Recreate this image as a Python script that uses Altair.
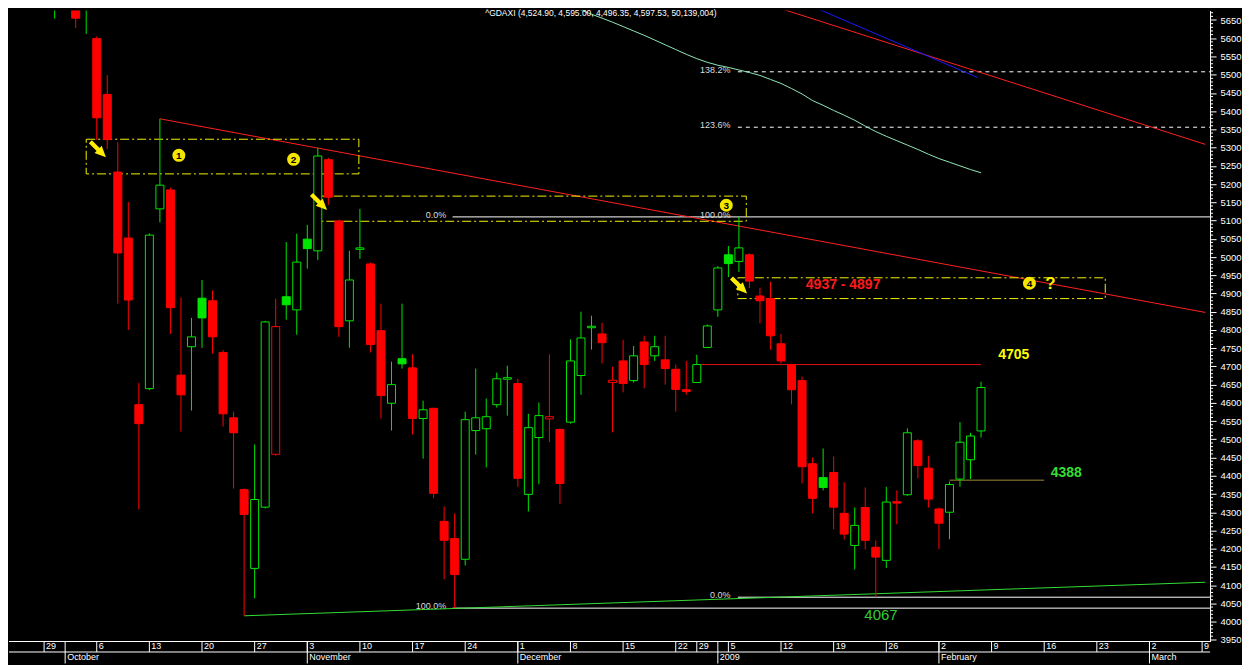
import altair as alt
import numpy as np
import pandas as pd

# ---------------- data (trading-day index, prices) ----------------
idx = list(range(90))
opens = [6050, 5760, 5830, 5800, 5679, 5599, 5446, 5233, 5052, 4595,
         4639, 5132, 5184, 4676, 4754, 4887, 4880, 4738, 4559, 4362,
         4146, 4314, 4459, 4891, 4855, 5049, 5017, 5267, 5099, 4825,
         5021, 4981, 4798, 4599, 4721, 4696, 4557, 4585, 4275, 4228,
         4171, 4524, 4529, 4595, 4665, 4653, 4349, 4505, 4556, 4527,
         4547, 4675, 4806, 4789, 4656, 4715, 4661, 4767, 4729, 4718,
         4692, 4636, 4656, 4752, 4855, 5006, 4988, 5006, 4893, 4886,
         4762, 4705, 4661, 4433, 4395, 4409, 4297, 4209, 4313, 4204,
         4168, 4329, 4348, 4496, 4421, 4309, 4300, 4391, 4444, 4523]
highs = [6080, 5900, 5880, 5810, 5830, 5605, 5499, 5315, 5151, 4655,
         5065, 5379, 5190, 4889, 4833, 4937, 4908, 4745, 4576, 4365,
         4486, 4825, 4886, 5041, 5064, 5088, 5299, 5272, 5102, 5017,
         5132, 4985, 4872, 4713, 4872, 4733, 4606, 4587, 4316, 4297,
         4576, 4694, 4612, 4683, 4702, 4666, 4570, 4601, 4733, 4530,
         4774, 4850, 4839, 4820, 4699, 4773, 4756, 4784, 4784, 4784,
         4705, 4715, 4732, 4815, 4975, 5030, 5110, 5010, 4915, 4932,
         4789, 4707, 4672, 4450, 4475, 4453, 4382, 4313, 4368, 4223,
         4370, 4360, 4530, 4500, 4455, 4313, 4384, 4547, 4518, 4658]
lows = [5790, 5654, 5760, 5628, 5612, 5321, 5296, 4872, 4800, 4308,
        4635, 5095, 4789, 4521, 4579, 4751, 4735, 4535, 4365, 4016,
        4064, 4310, 4455, 4828, 4787, 4968, 4992, 5143, 4781, 4751,
        4995, 4738, 4557, 4524, 4694, 4513, 4447, 4338, 4116, 4037,
        4154, 4458, 4423, 4587, 4565, 4370, 4302, 4377, 4492, 4322,
        4543, 4622, 4746, 4708, 4519, 4629, 4656, 4640, 4715, 4650,
        4576, 4622, 4655, 4750, 4836, 4945, 4959, 4915, 4818, 4746,
        4708, 4596, 4379, 4297, 4360, 4253, 4225, 4143, 4198, 4067,
        4147, 4267, 4345, 4393, 4313, 4199, 4226, 4370, 4391, 4505]
closes = [5807, 5831, 5806, 5655, 5797, 5382, 5322, 5011, 4882, 4543,
          5060, 5197, 4861, 4622, 4781, 4833, 4781, 4570, 4518, 4294,
          4335, 4822, 4809, 4869, 4986, 5023, 5277, 5164, 4809, 4937,
          5025, 4760, 4620, 4650, 4707, 4557, 4581, 4352, 4223, 4129,
          4554, 4559, 4562, 4666, 4669, 4393, 4532, 4565, 4562, 4379,
          4715, 4778, 4810, 4765, 4662, 4653, 4729, 4705, 4754, 4694,
          4637, 4631, 4705, 4811, 4970, 4982, 5025, 4934, 4880, 4784,
          4715, 4636, 4425, 4338, 4368, 4314, 4240, 4264, 4223, 4177,
          4328, 4325, 4518, 4428, 4336, 4270, 4376, 4492, 4509, 4642]

ma_idx = list(range(48, 90))
ma_vals = [5712, 5700, 5688, 5677, 5666, 5655, 5644, 5632, 5620, 5608,
           5595, 5582, 5569, 5556, 5544, 5534, 5526, 5520, 5513, 5506,
           5498, 5487, 5476, 5462, 5447, 5429, 5416, 5402, 5389, 5375,
           5359, 5344, 5331, 5319, 5307, 5295, 5282, 5270, 5260, 5250,
           5240, 5231]

# trend lines: start/end (index, price)
red_i1, red_p1, red_i2, red_p2 = [11, 66], [5379, 5718], [110.3, 110.3], [4848, 5309]
blue_i1, blue_p1, blue_i2, blue_p2 = [70], [5724], [88.7], [5492]
sup_i1, sup_p1, sup_i2, sup_p2 = [19], [4016], [110.3], [4108]

# fibonacci levels
fib_solid_i1 = [38.8, 38.8, 65.9]
fib_solid_p = [5110, 4037, 4067]
fib_dash_i1 = [65.9, 65.9]
fib_dash_p = [5356, 5508]
fib_lab_i = [38.2, 38.2, 65.2, 65.2, 65.2, 65.2]
fib_lab_p = [5110, 4037, 5110, 4067, 5356, 5508]
fib_lab_t = ["0.0%", "100.0%", "100.0%", "0.0%", "123.6%", "138.2%"]

# yellow zone boxes
box_i1 = [4.0, 25.9, 65.9]
box_i2 = [29.9, 66.7, 100.8]
box_lo = [5228, 5098, 4886]
box_hi = [5323, 5167, 4943]

# horizontal levels
res_i1, res_i2, res_p = [62], [89], [4705]
sup2_i1, sup2_i2, sup2_p = [86], [95], [4388]

# annotations
arrow_i = [5.1, 26.1, 66.0]
arrow_p = [5296, 5151, 4922]
num_i = [12.8, 23.7, 64.8, 93.6]
num_p = [5279, 5268, 5142, 4928]
num_t = ["1", "2", "3", "4"]

# x axis labels
week_i = [0, 5, 10, 15, 20, 25, 30, 35, 40, 45, 50, 55, 60, 62, 65, 70,
          75, 80, 85, 90, 95, 100, 105, 110]
week_t = ["29", "6", "13", "20", "27", "3", "10", "17", "24", "1", "8", "15",
          "22", "29", "5", "12", "19", "26", "2", "9", "16", "23", "2", "9"]
month_i = [2, 25, 45, 64, 85, 105]
month_t = ["October", "November", "December", "2009", "February", "March"]

y_major = list(range(3950, 5651, 50))
y_minor = [v for v in range(3950, 5671, 10) if v % 50 != 0]

# ---------------- styling ----------------
RED = "#ff0000"
GREEN = "#00e600"
YEL = "#f2f200"
W, H = 1203, 632
xs = alt.Scale(domain=[-2.86, 110.28], nice=False, zero=False)
ys = alt.Scale(domain=[3945.5, 5676.0], nice=False, zero=False)
YAXIS = alt.Axis(orient="right", values=y_major, title=None, grid=False, format="d",
                 labelColor="white", labelFont="Arial", labelFontSize=9.5,
                 tickColor="white", domainColor="white", tickSize=6, labelPadding=4)


def X(f="i"):
    return alt.X(f"{f}:Q", scale=xs, axis=None)


def Y(f):
    return alt.Y(f"{f}:Q", scale=ys, axis=YAXIS)


cdf = pd.DataFrame({"i": idx, "o": opens, "h": highs, "l": lows, "c": closes})
prev = cdf["c"].shift(1)
cdf["col"] = np.where(cdf["c"] >= prev, GREEN, RED)
cdf["fill"] = np.where(cdf["c"] >= cdf["o"], "#000000", cdf["col"])

wicks = alt.Chart(cdf).mark_rule(clip=True, strokeWidth=1).encode(
    x=X(), y=Y("l"), y2="h:Q", stroke=alt.Stroke("col:N", scale=None))
bodies = alt.Chart(cdf).mark_bar(clip=True, size=8, strokeWidth=1).encode(
    x=X(), y=Y("o"), y2="c:Q",
    fill=alt.Fill("fill:N", scale=None),
    stroke=alt.Stroke("col:N", scale=None))

ma = alt.Chart(pd.DataFrame({"i": ma_idx, "p": ma_vals})).mark_line(
    clip=True, color="#8fe8b8", strokeWidth=1).encode(x=X(), y=Y("p"))


def seg(i1, p1, i2, p2, color):
    d = pd.DataFrame({"i1": i1, "p1": p1, "i2": i2, "p2": p2})
    return alt.Chart(d).mark_rule(clip=True, strokeWidth=1, color=color).encode(
        x=X("i1"), x2="i2:Q", y=Y("p1"), y2="p2:Q")


trends = [
    seg(red_i1, red_p1, red_i2, red_p2, "#ff2020"),
    seg(blue_i1, blue_p1, blue_i2, blue_p2, "#1a1aff"),
    seg(sup_i1, sup_p1, sup_i2, sup_p2, "#33dd33"),
    seg(res_i1, res_p, res_i2, res_p, "#e01010"),
    seg(sup2_i1, sup2_p, sup2_i2, sup2_p, "#a08a3a"),
]

fsolid = alt.Chart(pd.DataFrame({"i1": fib_solid_i1, "p": fib_solid_p})).mark_rule(
    color="white", strokeWidth=1).encode(x=X("i1"), x2=alt.value(W), y=Y("p"))
fdash = alt.Chart(pd.DataFrame({"i1": fib_dash_i1, "p": fib_dash_p})).mark_rule(
    color="white", strokeWidth=1, strokeDash=[4, 4]).encode(x=X("i1"), x2=alt.value(W), y=Y("p"))
flab = alt.Chart(pd.DataFrame({"i": fib_lab_i, "p": fib_lab_p, "t": fib_lab_t})).mark_text(
    align="right", baseline="middle", dy=-2, fontSize=9, font="Arial", color="#dddddd").encode(
    x=X(), y=Y("p"), text="t:N")

boxes = alt.Chart(pd.DataFrame({"i1": box_i1, "i2": box_i2, "lo": box_lo, "hi": box_hi})).mark_rect(
    fillOpacity=0, stroke=YEL, strokeWidth=1, strokeDash=[9, 3, 2, 3]).encode(
    x=X("i1"), x2="i2:Q", y=Y("lo"), y2="hi:Q")

arrows = alt.Chart(pd.DataFrame({"i": arrow_i, "p": arrow_p})).mark_point(
    shape="arrow", filled=True, size=380, angle=135, color="#ffee00", opacity=1,
    stroke="#ffee00", strokeWidth=1.5).encode(x=X(), y=Y("p"))
circles = alt.Chart(pd.DataFrame({"i": num_i, "p": num_p, "t": num_t})).mark_point(
    shape="circle", filled=True, size=170, color="#f5e600", opacity=1).encode(x=X(), y=Y("p"))
nums = alt.Chart(pd.DataFrame({"i": num_i, "p": num_p, "t": num_t})).mark_text(
    fontSize=10, fontWeight="bold", font="Arial", color="black", baseline="middle", dy=0.5).encode(
    x=X(), y=Y("p"), text="t:N")


def label(i, p, t, color, size, weight="bold", align="center"):
    return alt.Chart(pd.DataFrame({"i": [i], "p": [p], "t": [t]})).mark_text(
        fontSize=size, fontWeight=weight, font="Arial", color=color,
        align=align, baseline="middle").encode(x=X(), y=Y("p"), text="t:N")


labels = [
    label(75.9, 4924, "4937 - 4897", "#ff1a1a", 14),
    label(92.1, 4731, "4705", "#ffff00", 14),
    label(97.1, 4408, "4388", "#33dd33", 14),
    label(79.5, 4017, "4067", "#33cc33", 15, "normal"),
    label(95.6, 4926, "?", "#ffee00", 17),
    label(41.9, 5670, "^GDAXI (4,524.90, 4,595.00, 4,496.35, 4,597.53, 50,139,004)",
          "white", 8.5, "normal", "left"),
]

# ---------------- axis decorations ----------------
one = pd.DataFrame({"k": [0]})
hline1 = alt.Chart(one).mark_rule(color="white").encode(
    x=alt.value(0), x2=alt.value(W), y=alt.value(H))
hline2 = alt.Chart(one).mark_rule(color="white").encode(
    x=alt.value(0), x2=alt.value(W), y=alt.value(H + 10.5))
wdf = pd.DataFrame({"i": week_i, "t": week_t})
wsep = alt.Chart(wdf).mark_rule(color="white").encode(
    x=X(), y=alt.value(H), y2=alt.value(H + 10.5))
wtxt = alt.Chart(wdf).mark_text(align="left", baseline="top", dx=2, dy=1,
                                fontSize=9, font="Arial", color="white").encode(
    x=X(), y=alt.value(H), text="t:N")
mdf = pd.DataFrame({"i": month_i, "t": month_t})
msep = alt.Chart(mdf).mark_rule(color="white").encode(
    x=X(), y=alt.value(H), y2=alt.value(H + 22))
mtxt = alt.Chart(mdf).mark_text(align="left", baseline="top", dx=2,
                                fontSize=9, font="Arial", color="white").encode(
    x=X(), y=alt.value(H + 11.5), text="t:N")
minor = alt.Chart(pd.DataFrame({"v": y_minor})).mark_rule(color="white").encode(
    y=Y("v"), x=alt.value(W), x2=alt.value(W + 3))

chart = alt.layer(
    fsolid, fdash, flab, ma, *trends, boxes,
    wicks, bodies,
    arrows, circles, nums, *labels,
    hline1, hline2, wsep, wtxt, msep, mtxt, minor,
).properties(width=W, height=H, padding=0).configure(
    background="black").configure_view(strokeWidth=0, fill="black")

chart.save("out.html", embed_options={"renderer": "svg", "actions": False})
